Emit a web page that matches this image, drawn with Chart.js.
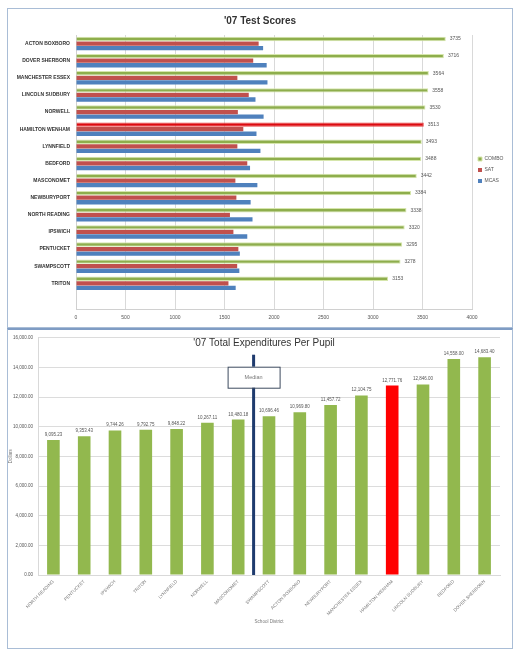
<!DOCTYPE html>
<html>
<head>
<meta charset="utf-8">
<script src="https://cdn.jsdelivr.net/npm/chart.js@4.4.1/dist/chart.umd.min.js"></script>
<style>
    body { margin: 0; background: #fff; font-family: "Liberation Sans", Arial, sans-serif; }
    .frame { position: absolute; left: 7px; width: 504px; height: 318px; border: 1px solid #a9bdd6; background: #fff; }
    #topFrame { top: 8px; }
    #bottomFrame { top: 328px; border-top: 2px solid #7f9cc4; }
    canvas { display: block; }
</style>
</head>
<body>
<div class="frame" id="topFrame"><canvas id="scoresChart" width="504" height="318"></canvas></div>
<div class="frame" id="bottomFrame"><canvas id="spendChart" width="504" height="318"></canvas></div>
<script>
// '07 Test Scores (top chart)
const scoreDistricts = ['ACTON BOXBORO', 'DOVER SHERBORN', 'MANCHESTER ESSEX', 'LINCOLN SUDBURY', 'NORWELL',
    'HAMILTON WENHAM', 'LYNNFIELD', 'BEDFORD', 'MASCONOMET', 'NEWBURYPORT', 'NORTH READING', 'IPSWICH',
    'PENTUCKET', 'SWAMPSCOTT', 'TRITON', ''];
const comboScores = [3735, 3716, 3564, 3558, 3530, 3513, 3493, 3488, 3442, 3384, 3338, 3320, 3295, 3278, 3153, null];
const satScores = [1845, 1790, 1630, 1745, 1635, 1690, 1630, 1730, 1610, 1620, 1555, 1590, 1640, 1628, 1540, null];
const mcasScores = [1890, 1926, 1934, 1813, 1895, 1823, 1863, 1758, 1832, 1764, 1783, 1730, 1655, 1650, 1613, null];
const scoreTicks = [0, 500, 1000, 1500, 2000, 2500, 3000, 3500, 4000];

// '07 Total Expenditures Per Pupil (bottom chart)
const spendDistricts = ['NORTH READING', 'PENTUCKET', 'IPSWICH', 'TRITON', 'LYNNFIELD', 'NORWELL', 'MASCONOMET',
    'SWAMPSCOTT', 'ACTON BOXBORO', 'NEWBURYPORT', 'MANCHESTER ESSEX', 'HAMILTON WENHAM', 'LINCOLN SUDBURY',
    'BEDFORD', 'DOVER SHERBORN'];
const perPupil = [9095.23, 9353.43, 9744.26, 9792.75, 9848.22, 10267.11, 10480.18, 10696.46, 10969.80,
    11457.72, 12104.75, 12771.76, 12846.00, 14558.00, 14683.40];
const spendTicks = [0, 2000, 4000, 6000, 8000, 10000, 12000, 14000, 16000];
const medianAfter = 6; // median line sits between the 7th and 8th district

const highlight = 'HAMILTON WENHAM';
const FONT = '"Liberation Sans", Arial, sans-serif';

function money(v) {
    return v.toLocaleString('en-US', { minimumFractionDigits: 2, maximumFractionDigits: 2 });
}

// value labels at the end of the COMBO bars
const comboLabels = {
    id: 'comboLabels',
    afterDatasetsDraw(chart) {
        const ctx = chart.ctx;
        const meta = chart.getDatasetMeta(0);
        ctx.save();
        ctx.font = '5px ' + FONT;
        ctx.fillStyle = '#555';
        ctx.textBaseline = 'middle';
        meta.data.forEach((bar, i) => {
            if (comboScores[i] == null) return;
            ctx.fillText(String(comboScores[i]), bar.x + 4, bar.y);
        });
        ctx.restore();
    }
};

const scoresChart = new Chart(document.getElementById('scoresChart'), {
    type: 'bar',
    data: {
        labels: scoreDistricts,
        datasets: [{
            label: 'COMBO',
            data: comboScores,
            backgroundColor: scoreDistricts.map(d => d === highlight ? '#dc0a10' : '#8eae4c'),
            borderColor: scoreDistricts.map(d => d === highlight ? '#e84040' : '#d6e6ac'),
            borderWidth: 1
        }, {
            label: 'SAT',
            data: satScores,
            backgroundColor: '#c0504d'
        }, {
            label: 'MCAS',
            data: mcasScores,
            backgroundColor: '#4f81bd'
        }]
    },
    options: {
        indexAxis: 'y',
        responsive: false,
        animation: false,
        layout: { padding: { top: 4, right: 0, bottom: 0, left: 0 } },
        datasets: { bar: { categoryPercentage: 0.8, barPercentage: 0.94 } },
        plugins: {
            title: {
                display: true,
                text: "'07 Test Scores",
                color: '#333',
                font: { family: FONT, size: 10, weight: 'bold' },
                padding: { top: 2, bottom: 8 }
            },
            legend: {
                position: 'right',
                maxWidth: 40,
                labels: {
                    color: '#555',
                    font: { family: FONT, size: 5 },
                    boxWidth: 4,
                    boxHeight: 4,
                    padding: 6
                }
            },
            tooltip: { enabled: false }
        },
        scales: {
            x: {
                min: 0,
                max: 4000,
                afterBuildTicks(scale) { scale.ticks = scoreTicks.map(v => ({ value: v })); },
                afterFit(scale) { scale.height = 18; },
                grid: { color: '#d9d9d9', drawTicks: false },
                border: { color: '#d0d0d0' },
                ticks: { color: '#555', font: { family: FONT, size: 5 }, padding: 6, callback: v => String(v) }
            },
            y: {
                afterFit(scale) { scale.width = 68; },
                grid: { display: false, drawTicks: false },
                border: { color: '#d0d0d0' },
                ticks: { color: '#333', font: { family: FONT, size: 5, weight: 'bold' }, padding: 6, autoSkip: false }
            }
        }
    },
    plugins: [comboLabels]
});

// title, value labels and the median marker for the bottom chart
const spendExtras = {
    id: 'spendExtras',
    afterDatasetsDraw(chart) {
        const ctx = chart.ctx;
        const area = chart.chartArea;
        const xs = chart.scales.x;
        const meta = chart.getDatasetMeta(0);
        ctx.save();

        ctx.font = '4.5px ' + FONT;
        ctx.fillStyle = '#555';
        ctx.textAlign = 'center';
        ctx.textBaseline = 'bottom';
        meta.data.forEach((bar, i) => ctx.fillText(money(perPupil[i]), bar.x, bar.y - 3));

        const mx = (xs.getPixelForValue(medianAfter) + xs.getPixelForValue(medianAfter + 1)) / 2;
        ctx.strokeStyle = '#1f3b6e';
        ctx.lineWidth = 3;
        ctx.beginPath();
        ctx.moveTo(mx, area.top + 17);
        ctx.lineTo(mx, area.bottom);
        ctx.stroke();

        ctx.fillStyle = '#fff';
        ctx.fillRect(mx - 26, area.top + 29, 52, 21);
        ctx.strokeStyle = '#3c4a5e';
        ctx.lineWidth = 1;
        ctx.strokeRect(mx - 26 + 0.5, area.top + 29 + 0.5, 52, 21);
        ctx.fillStyle = '#777';
        ctx.font = '5.5px ' + FONT;
        ctx.textBaseline = 'middle';
        ctx.fillText('Median', mx, area.top + 40);

        ctx.fillStyle = '#333';
        ctx.font = '10px ' + FONT;
        ctx.fillText("'07 Total Expenditures Per Pupil", (area.left + area.right) / 2 - 5, area.top + 6);
        ctx.restore();
    }
};

const spendChart = new Chart(document.getElementById('spendChart'), {
    type: 'bar',
    data: {
        labels: spendDistricts,
        datasets: [{
            label: 'Per Pupil',
            data: perPupil,
            backgroundColor: spendDistricts.map(d => d === highlight ? '#ff0000' : '#92b84e')
        }]
    },
    options: {
        responsive: false,
        animation: false,
        layout: { padding: { top: 5, right: 12, bottom: 20, left: 0 } },
        datasets: { bar: { categoryPercentage: 1, barPercentage: 0.41 } },
        plugins: {
            legend: { display: false },
            tooltip: { enabled: false }
        },
        scales: {
            x: {
                afterFit(scale) { scale.height = 53; },
                grid: { display: false, drawTicks: false },
                border: { color: '#d9d9d9' },
                title: { display: true, text: 'School District', color: '#777', font: { family: FONT, size: 4.5 } },
                ticks: { color: '#777', font: { family: FONT, size: 4.5 }, padding: 4, minRotation: 45, maxRotation: 45, autoSkip: false }
            },
            y: {
                min: 0,
                max: 16000,
                afterBuildTicks(scale) { scale.ticks = spendTicks.map(v => ({ value: v })); },
                afterFit(scale) { scale.width = 30; },
                grid: { color: '#dcdcdc', drawTicks: false },
                border: { color: '#d9d9d9' },
                title: { display: true, text: 'Dollars', color: '#777', font: { family: FONT, size: 4.5 }, padding: 0 },
                ticks: { color: '#555', font: { family: FONT, size: 4.5 }, padding: 5, callback: v => money(v) }
            }
        }
    },
    plugins: [spendExtras]
});
</script>
</body>
</html>
